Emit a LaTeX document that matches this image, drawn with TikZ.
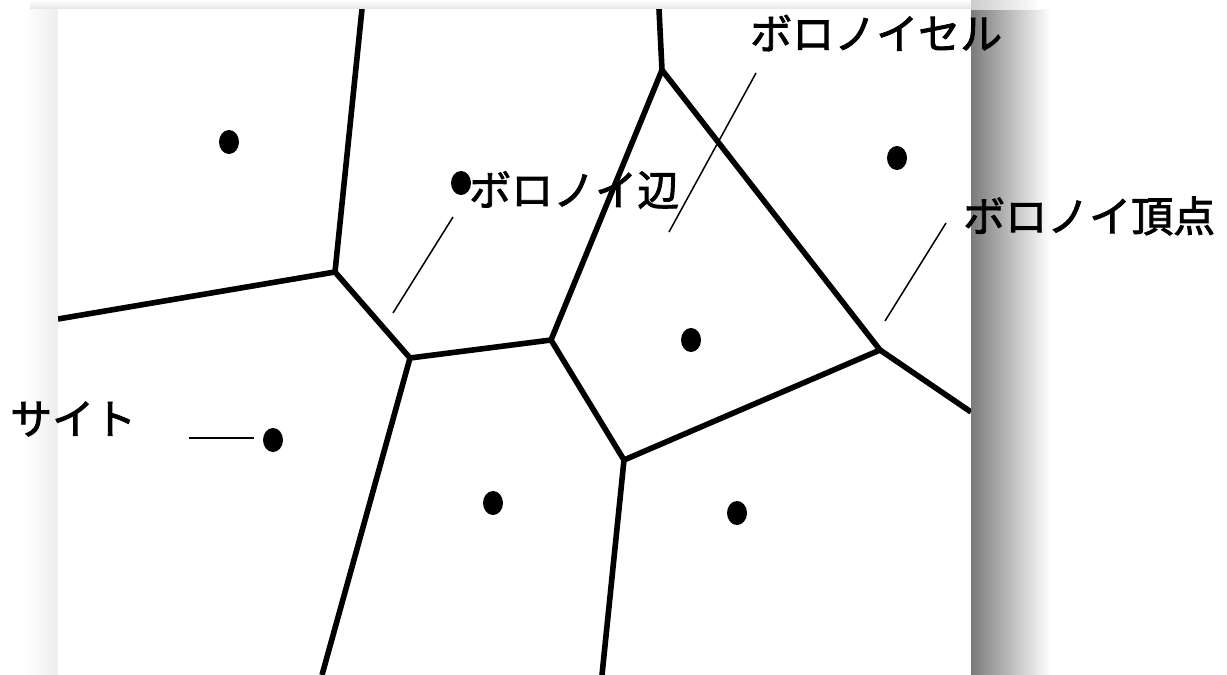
\documentclass[tikz,border=0pt]{standalone}
\usepackage{fontspec}
\setmainfont{Noto Sans CJK JP}
\newfontfamily\jpfont{Noto Sans CJK JP}[FakeBold=2]
\usetikzlibrary{shapes.geometric}
\tikzset{
  edge/.style={line width=5.6pt, line join=round},
  leader/.style={line width=1.5pt},
  site/.style={ellipse, fill=black, inner sep=0pt, minimum width=20pt, minimum height=24pt},
  lbl/.style={anchor=west, inner sep=0pt, font=\jpfont\fontsize{42}{48}\selectfont}
}
\begin{document}
\begin{tikzpicture}[x=1pt,y=-1pt]
\useasboundingbox (0,0) rectangle (1227,675);
% shadows
\shade[top color=white, bottom color=black!10] (30,0) rectangle (1000,9);
\shade[left color=white, right color=black!7] (25,9) rectangle (58,675);
\shade[left color=black!52, right color=white] (971,9) rectangle (1050,675);
\shade[left color=black!20, right color=white] (971,0) rectangle (1040,9);
% panel
\fill[white] (58,9) rectangle (971,675);
% Voronoi vertices
\coordinate (v1) at (335,272);
\coordinate (v2) at (410,358);
\coordinate (v3) at (551,340);
\coordinate (v4) at (662,70);
\coordinate (v5) at (880,350);
\coordinate (v6) at (624,460);
% border ends
\coordinate (b1) at (58,319);
\coordinate (b2) at (362,9);
\coordinate (b3) at (322,675);
\coordinate (b4) at (659,9);
\coordinate (b5) at (971,412);
\coordinate (b6) at (602,675);
\begin{scope}
\clip (58,9) rectangle (971,675);
\draw[edge] (b1) -- (v1) -- (b2);
\draw[edge] (v1) -- (v2) -- (b3);
\draw[edge] (v2) -- (v3) -- (v4) -- (b4);
\draw[edge] (v4) -- (v5) -- (b5);
\draw[edge] (v3) -- (v6) -- (v5);
\draw[edge] (v6) -- (b6);
\end{scope}
% sites
\node[site] (s1) at (229,142) {};
\node[site] (s2) at (461,183) {};
\node[site] (s3) at (897,158) {};
\node[site] (s4) at (691,340) {};
\node[site] (s5) at (273,440) {};
\node[site] (s6) at (493,503) {};
\node[site] (s7) at (737,513) {};
% labels
\node[lbl] (tEdge) at (469,190) {ボロノイ辺};
\node[lbl] (tCell) at (750,33) {ボロノイセル};
\node[lbl] (tVert) at (963,216) {ボロノイ頂点};
\node[lbl] (tSite) at (10,419) {サイト};
% leader lines
\coordinate (e1) at (453,217); \coordinate (e2) at (393,313);
\coordinate (c1) at (756,73);  \coordinate (c2) at (669,232);
\coordinate (p1) at (946,223); \coordinate (p2) at (885,321);
\coordinate (q1) at (189,438); \coordinate (q2) at (254,438);
\draw[leader] (e1) -- (e2);
\draw[leader] (c1) -- (c2);
\draw[leader] (p1) -- (p2);
\draw[leader] (q1) -- (q2);
\end{tikzpicture}
\end{document}
